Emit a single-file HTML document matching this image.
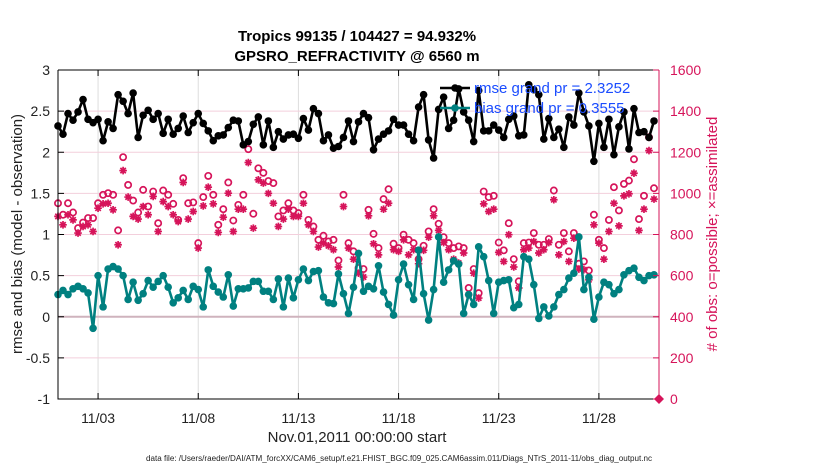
<!DOCTYPE html>
<html><head><meta charset="utf-8"><style>
body{margin:0;background:#fff;}
svg{font-family:"Liberation Sans",sans-serif;}
</style></head><body>
<svg id="chart" width="830" height="470" viewBox="0 0 830 470" xmlns="http://www.w3.org/2000/svg">
<rect width="830" height="470" fill="#fff"/>
<g id="grid"></g>
<g id="series"></g>
<g id="axes"></g>
<text x="357" y="41" text-anchor="middle" font-size="15" font-weight="bold">Tropics 99135 / 104427 = 94.932%</text>
<text x="357" y="61" text-anchor="middle" font-size="15" font-weight="bold">GPSRO_REFRACTIVITY @ 6560 m</text>
<text x="357" y="442" text-anchor="middle" font-size="15" fill="#222">Nov.01,2011 00:00:00 start</text>
<text transform="translate(22,234) rotate(-90)" text-anchor="middle" font-size="15" fill="#222">rmse and bias (model - observation)</text>
<text transform="translate(717,234) rotate(-90)" text-anchor="middle" font-size="15" fill="#d6145a">#  of obs: o=possible; ×=assimilated</text>
<text x="146" y="461" font-size="8" textLength="506" lengthAdjust="spacingAndGlyphs" fill="#222">data file: /Users/raeder/DAI/ATM_forcXX/CAM6_setup/f.e21.FHIST_BGC.f09_025.CAM6assim.011/Diags_NTrS_2011-11/obs_diag_output.nc</text>
<g id="legend"></g>
</svg>
<script>
const rmse=[2.32,2.22,2.47,2.39,2.49,2.64,2.40,2.36,2.40,2.14,2.37,2.29,2.70,2.62,2.47,2.72,2.18,2.45,2.51,2.40,2.47,2.23,2.40,2.22,2.29,2.44,2.24,2.36,2.47,2.35,2.26,2.14,2.20,2.21,2.30,2.39,2.38,2.09,2.13,2.34,2.43,
2.09,2.38,2.06,2.25,2.16,2.21,2.22,2.17,2.41,2.27,2.53,2.47,2.14,2.21,2.05,2.07,2.18,2.38,2.13,2.37,2.47,2.42,2.03,2.16,2.22,2.26,2.40,2.33,2.33,2.22,2.14,2.55,2.70,2.15,1.93,2.52,2.67,2.29,2.39,
2.77,2.49,2.39,2.13,2.75,2.26,2.26,2.33,2.27,2.18,2.40,2.44,2.20,2.21,2.82,2.76,2.70,2.16,2.41,2.18,2.28,2.06,2.43,2.33,2.72,2.49,2.32,1.89,2.35,2.06,2.40,1.97,2.31,2.49,2.04,2.53,2.24,2.25,2.18,2.38];
const bias=[0.27,0.32,0.27,0.34,0.37,0.34,0.29,-0.14,0.50,0.12,0.58,0.61,0.58,0.50,0.21,0.42,0.20,0.28,0.44,0.36,0.43,0.50,0.36,0.17,0.23,0.32,0.21,0.37,0.33,0.12,0.57,0.37,0.30,0.24,0.51,0.13,0.34,0.34,0.35,0.43,0.43,
0.31,0.31,0.21,0.46,0.12,0.47,0.23,0.45,0.58,0.44,0.55,0.56,0.24,0.17,0.16,0.52,0.28,0.04,0.36,0.77,0.31,0.37,0.34,0.62,0.30,0.15,0.02,0.45,0.64,0.39,0.21,0.81,0.28,-0.04,0.33,0.97,0.42,0.57,0.68,
0.64,0.04,0.27,0.15,0.85,0.73,0.44,0.04,0.42,0.44,0.45,0.11,0.15,0.73,0.70,0.39,-0.02,0.12,0.01,0.12,0.27,0.33,0.47,0.53,0.97,0.33,0.48,-0.03,0.24,0.42,0.39,0.28,0.33,0.51,0.56,0.59,0.48,0.44,0.50,0.51];
const possible=[952,896,952,907,831,858,880,880,952,993,1001,993,820,1176,1041,965,907,1017,936,1009,855,1014,993,949,871,1074,952,956,758,982,1085,993,847,923,1053,868,944,993,1215,901,1122,
1100,1060,1050,888,917,952,917,904,993,871,839,774,794,766,774,674,993,758,718,637,632,920,803,734,972,1020,755,734,799,774,758,680,745,815,923,852,787,758,734,
742,734,540,632,515,1009,982,988,761,723,855,680,572,758,761,807,750,750,778,1014,750,807,718,807,658,669,625,896,774,734,871,1030,917,1046,1062,1166,875,988,1273,1025];
const assimilated=[888,847,896,871,807,839,847,815,928,949,952,920,750,1111,982,888,875,936,896,985,815,960,936,896,863,1053,875,912,734,939,1030,949,810,884,1001,815,923,923,1150,831,1066,
1050,1000,952,839,875,923,888,888,952,847,815,739,758,745,726,642,936,734,680,612,593,891,755,701,923,952,726,718,774,701,726,658,723,787,891,820,761,726,680,
661,710,507,612,491,949,912,923,713,669,799,642,540,726,734,766,710,726,761,969,701,766,669,782,632,629,580,847,758,680,815,952,842,988,998,1098,820,923,1208,972];
const xTickDays=[2,7,12,17,22,27];
const xTickLabels=["11/03","11/08","11/13","11/18","11/23","11/28"];
const leftTicks=[3,2.5,2,1.5,1,0.5,0,-0.5,-1];
const leftTickLabels=["3","2.5","2","1.5","1","0.5","0","-0.5","-1"];
const rightTicks=[0,200,400,600,800,1000,1200,1400,1600];
const legendLabels=["rmse grand pr = 2.3252","bias grand pr = 0.3555"];

const NS="http://www.w3.org/2000/svg";
const X0=58,X1=659,YT=70,YB=399,RED="#d6145a",TEAL="#008080";
const xDay=d=>X0+d*(X1-X0)/30;
const xIdx=i=>xDay(i*0.25);
const yL=v=>YT+(3-v)*(YB-YT)/4;
const yR=c=>YB-c*(YB-YT)/1600;
function mk(tag,attrs,parent){const e=document.createElementNS(NS,tag);for(const k in attrs)e.setAttribute(k,attrs[k]);parent.appendChild(e);return e;}
const grid=document.getElementById('grid'),ser=document.getElementById('series'),ax=document.getElementById('axes'),leg=document.getElementById('legend');

xTickDays.forEach((d,k)=>{
  const l=mk('line',{x1:xDay(d),x2:xDay(d),y1:YT,y2:YB,stroke:'#dcdcdc','stroke-width':1},grid);
  
  
});
rightTicks.forEach(c=>{
  if(c===0||c===1600)return;
  const l=mk('line',{x1:X0,x2:X1,y1:yR(c),y2:yR(c),stroke:'#f3cfdc','stroke-width':1},grid);
  
  
});
const zl=mk('line',{x1:X0,x2:X1,y1:yL(0),y2:yL(0),stroke:'#cfb3bd','stroke-width':2},grid);



possible.forEach((c,i)=>{
  const e=mk('circle',{cx:xIdx(i),cy:yR(c),r:3.1,fill:'none',stroke:RED,'stroke-width':1.7},ser);
  
  
});
assimilated.forEach((c,i)=>{
  const x=xIdx(i),y=yR(c),r=3.8,d=2.7;
  const p=`M${x-r},${y}L${x+r},${y}M${x},${y-r}L${x},${y+r}M${x-d},${y-d}L${x+d},${y+d}M${x-d},${y+d}L${x+d},${y-d}`;
  const e=mk('path',{d:p,stroke:RED,'stroke-width':1.7,fill:'none'},ser);
  
  
});
function lineSeries(arr,color,name){
  const pts=arr.map((v,i)=>xIdx(i).toFixed(1)+','+yL(v).toFixed(1)).join(' ');
  const pl=mk('polyline',{points:pts,fill:'none',stroke:color,'stroke-width':2.6,'stroke-linejoin':'round'},ser);
  
  
  arr.forEach((v,i)=>{
    const c=mk('circle',{cx:xIdx(i),cy:yL(v),r:3.8,fill:color},ser);
    
    
  });
}
lineSeries(rmse,'#000','rmse');
lineSeries(bias,TEAL,'bias');

const box=mk('path',{d:`M${X0},${YT}L${X1},${YT}M${X0},${YT}L${X0},${YB}L${X1},${YB}`,stroke:'#000','stroke-width':1,fill:'none'},ax);


const ra=mk('line',{x1:X1,x2:X1,y1:YT,y2:YB,stroke:RED,'stroke-width':1},ax);


xTickDays.forEach((d,k)=>{
  const x=xDay(d);
  mk('line',{x1:x,x2:x,y1:YB,y2:YB-6,stroke:'#000'},ax);
  mk('line',{x1:x,x2:x,y1:YT,y2:YT+6,stroke:'#000'},ax);
  const t=mk('text',{x:x,y:YB+24,'text-anchor':'middle','font-size':14,fill:'#222'},ax);
  t.textContent=xTickLabels[k];
  
  
});
leftTicks.forEach((v,k)=>{
  const y=yL(v);
  mk('line',{x1:X0,x2:X0+6,y1:y,y2:y,stroke:'#000'},ax);
  const t=mk('text',{x:X0-8,y:y+5,'text-anchor':'end','font-size':14,fill:'#222'},ax);
  t.textContent=leftTickLabels[k];
  
  
});
rightTicks.forEach(c=>{
  const y=yR(c);
  mk('line',{x1:X1-6,x2:X1,y1:y,y2:y,stroke:RED},ax);
  const t=mk('text',{x:X1+11,y:y+5,'font-size':14,fill:RED},ax);
  t.textContent=String(c);
  
  
});
const zm=mk('path',{d:`M${X1-5},${YB}L${X1},${YB-5}L${X1+5},${YB}L${X1},${YB+5}Z`,fill:RED},ax);



[['#000',88],[TEAL,108]].forEach((s,k)=>{
  const l=mk('line',{x1:440,x2:470,y1:s[1],y2:s[1],stroke:s[0],'stroke-width':2.5},leg);
  
  
  mk('circle',{cx:455,cy:s[1],r:3.8,fill:s[0]},leg);
  const t=mk('text',{x:474,y:s[1]+5,'font-size':15,fill:'#1a4cff'},leg);
  t.textContent=legendLabels[k];
  
  
});
</script>
</body></html>
